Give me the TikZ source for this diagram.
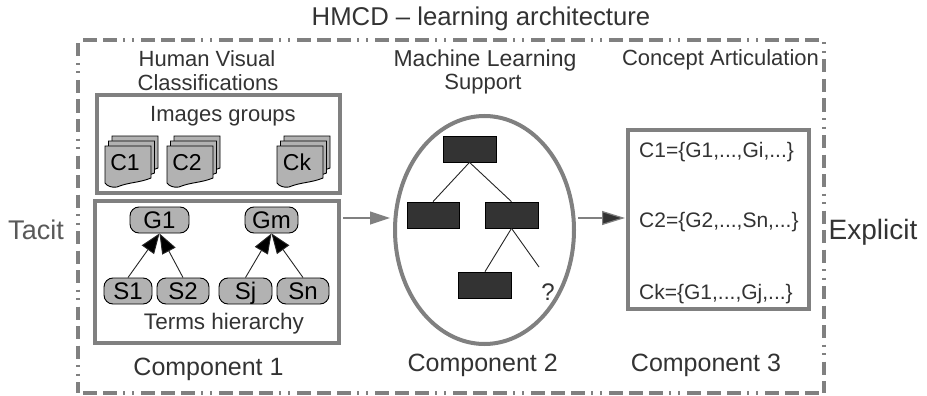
\documentclass[tikz,border=0pt]{standalone}
\usepackage{fontspec}
\setmainfont{Liberation Sans}
\usetikzlibrary{arrows.meta,shapes.geometric}
\newcommand{\fsz}[1]{\fontsize{#1}{#1}\selectfont}
\newcommand{\docpage}[2]{\draw[docline,shift={(#1,#2)}] (0,0) -- (46,0) -- (46,32) .. controls (34,37) and (24,36) .. (12,41) .. controls (7,42) and (2,40) .. (0,37) -- cycle;}
\newcommand{\docstack}[4]{%
  \docpage{#1+7}{#2-10}\docpage{#1+3.5}{#2-5}\docpage{#1}{#2}
  \node[doclabel] (#3) at (#1+20,#2+16) {#4};}
\tikzset{
  x=1pt,y=-1pt,
  framed/.style={draw=boxgray,line width=4pt,fill=white,inner sep=0pt,line join=miter},
  docline/.style={draw=black,line width=0.9pt,fill=pillgray},
  doclabel/.style={inner sep=0pt,text=black,font=\fsz{23},text height=16.5pt,text depth=0pt},
  pill/.style={draw=black,line width=0.9pt,fill=pillgray,rounded corners=9pt,inner sep=0pt,text=black,font=\fsz{24},minimum height=26pt,text height=17.2pt,text depth=0pt},
  treebox/.style={draw=black,line width=0.7pt,fill=treedark,inner sep=0pt,minimum width=53pt,minimum height=26pt},
  treeline/.style={draw=black!85,line width=0.9pt},
  isa/.style={draw=black!85,line width=0.9pt,-{Triangle[length=20pt,width=15pt,fill=black]}},
  label/.style={inner sep=0pt,text=txtgray,font=\fsz{22}},
  hframe/.style={boxgray,line width=4pt,dash pattern=on 13.5pt off 6.5pt on 13.5pt off 6.5pt on 13.5pt off 6.5pt on 2pt off 7pt on 2pt off 7pt},
  vframe/.style={boxgray,line width=4pt,dash pattern=on 13pt off 6.5pt on 13pt off 6.5pt on 13pt off 6.5pt on 2pt off 6.5pt on 2pt off 6.5pt},
}
\definecolor{boxgray}{gray}{0.5}
\definecolor{pillgray}{gray}{0.7}
\definecolor{treedark}{gray}{0.2}
\definecolor{txtgray}{gray}{0.2}
\begin{document}
\begin{tikzpicture}
\useasboundingbox (0,0) rectangle (927,396);
\fill[white] (0,0) rectangle (927,396);
% outer frame
\coordinate (tl) at (78,40);
\coordinate (tr) at (824,40);
\coordinate (bl) at (78,393);
\coordinate (br) at (824,393);
\draw[hframe,dash phase=15pt] (tl) -- (tr);
\draw[hframe,dash phase=15pt] (bl) -- (br);
\draw[vframe,dash phase=35.5pt] (tl) -- (bl);
\draw[vframe,dash phase=56pt] (tr) -- (br);
% title
\node[label,font=\fsz{25.7}] (title) at (481,19) {HMCD – learning architecture};
\node[label] (h1a) at (207,59) {Human Visual};
\node[label] (h1b) at (208,83) {Classifications};
\node[label,font=\fsz{23}] (h2a) at (485,61) {Machine Learning};
\node[label] (h2b) at (483,84) {Support};
\node[label] (h3) at (720.5,60) {Concept Articulation};
\node[label,font=\fsz{27},text=black!65] (tacit) at (36,230) {Tacit};
\node[label,font=\fsz{28}] (explicit) at (873,232) {Explicit};
% boxes
\node[framed,minimum width=243pt,minimum height=98pt] (groups) at (218.5,144) {};
\node[framed,minimum width=244pt,minimum height=142pt] (terms) at (217,272) {};
\node[ellipse,draw=boxgray,line width=4pt,fill=white,inner sep=0pt,minimum width=179pt,minimum height=228pt] (ml) at (484.5,230) {};
\node[framed,minimum width=181pt,minimum height=179pt] (concepts) at (718.5,219.5) {};
% box titles
\node[label] (imgs) at (223,116) {Images groups};
\node[label,font=\fsz{22.5}] (hier) at (224,324) {Terms hierarchy};
% document stacks
\docstack{105}{146}{c1}{C1}
\docstack{167}{146}{c2}{C2}
\docstack{277}{146}{ck}{Ck}
% hierarchy
\node[pill,minimum width=59pt] (G1) at (159.5,220) {G1};
\node[pill,minimum width=53pt] (Gm) at (271.5,220) {Gm};
\node[pill,minimum width=48pt] (S1) at (128,291) {S1};
\node[pill,minimum width=52pt] (S2) at (183,291) {S2};
\node[pill,minimum width=53pt] (Sj) at (245.5,291) {Sj};
\node[pill,minimum width=52pt] (Sn) at (303,291) {Sn};
\draw[isa] (S1.north) -- (G1.south);
\draw[isa] (S2.north) -- (G1.south);
\draw[isa] (Sj.north) -- (Gm.south);
\draw[isa] (Sn.north) -- (Gm.south);
% tree
\node[treebox] (r1) at (469.5,149) {};
\node[treebox,minimum width=52pt] (r2) at (433,215) {};
\node[treebox] (r3) at (511.5,215) {};
\node[treebox] (r4) at (485,285) {};
\coordinate (free) at (539,267);
\draw[treeline] (r1.south) -- (r2.north);
\draw[treeline] (r1.south) -- (r3.north);
\draw[treeline] (r3.south) -- (r4.north);
\draw[treeline] (r3.south) -- (free);
\node[label,font=\fsz{24}] (q) at (548,292) {?};
% connectors between components
\coordinate (a1s) at (343,218);
\coordinate (a1e) at (390,218);
\coordinate (a2s) at (578,218);
\coordinate (a2e) at (625,218);
\draw[boxgray,line width=1.2pt,-{Triangle[length=20pt,width=13pt,fill=boxgray]}] (a1s) -- (a1e);
\draw[boxgray,line width=1.2pt,-{Triangle[length=23pt,width=14pt,fill=treedark]}] (a2s) -- (a2e);
% articulation text
\node[label,anchor=west,font=\fsz{21}] (t1) at (639,152) {C1=\{G1,...,Gi,...\}};
\node[label,anchor=west,font=\fsz{21}] (t2) at (639,222) {C2=\{G2,...,Sn,...\}};
\node[label,anchor=west,font=\fsz{21}] (t3) at (639,294) {Ck=\{G1,...,Gj,...\}};
% component captions
\node[label,font=\fsz{25}] (comp1) at (208.5,369) {Component 1};
\node[label,font=\fsz{25}] (comp2) at (482.7,365) {Component 2};
\node[label,font=\fsz{25}] (comp3) at (706,365) {Component 3};
\end{tikzpicture}
\end{document}
